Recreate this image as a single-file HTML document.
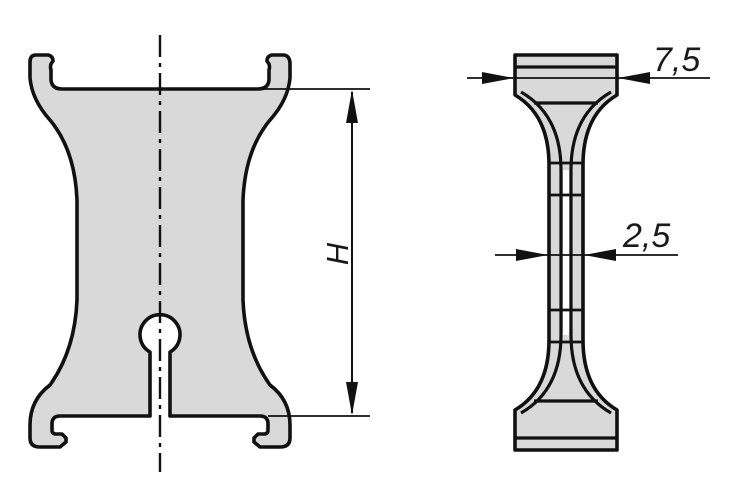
<!DOCTYPE html>
<html><head><meta charset="utf-8"><style>
html,body{margin:0;padding:0;background:#fff;}
svg{display:block;}
text{font-family:"Liberation Sans",sans-serif;font-style:italic;fill:#1a1a1a;}
</style></head><body>
<svg width="750" height="500" viewBox="0 0 750 500" xmlns="http://www.w3.org/2000/svg">
<!-- Left part -->
<path d="M36,55 L48,55 Q53,56 53,61 L51,64 Q50,67 51,70 L51,80 Q52,89 62,89 L258,89 Q268,89 269,80 L269,70 Q270,67 269,64 L267,61 Q267,56 272,55 L284,55 Q290,56 290,64 L290,78 Q288,100 270,120 Q245,150 243,200 L243,300 Q245,350 270,385 Q290,400 290,425 L290,438 Q290,447 280,447 L260,447 L254,442 L254,438 L258,434 L264,434 Q268,434 268,430 L268,424 Q268,416 260,416 L170,416 L170,352 A20 20 0 1 0 150,352 L150,416 L60,416 Q52,416 52,424 L52,430 Q52,434 56,434 L62,434 L66,438 L66,442 L60,447 L40,447 Q30,447 30,438 L30,425 Q30,400 50,385 Q75,350 77,300 L77,200 Q75,150 50,120 Q32,100 30,78 L30,62 Q30,55 36,55 Z" fill="#d9d9d9" stroke="#111" stroke-width="3.6" stroke-linejoin="round"/>
<line x1="160" y1="35" x2="160" y2="472" stroke="#111" stroke-width="2.4" stroke-dasharray="22,6,4,6"/>
<!-- H dimension -->
<line x1="262" y1="89" x2="370" y2="89" stroke="#111" stroke-width="1.8"/>
<line x1="268" y1="416" x2="370" y2="416" stroke="#111" stroke-width="1.8"/>
<line x1="352" y1="92" x2="352" y2="413" stroke="#111" stroke-width="2"/>
<polygon points="352,90 346,123 358,123" fill="#111"/>
<polygon points="352,415 346,382 358,382" fill="#111"/>
<text x="0" y="0" font-size="31" transform="translate(348,254) rotate(-90)" text-anchor="middle">H</text>
<!-- Right part -->
<path d="M515,55 L617,55 L617,95 Q583,115 583,165 L583,340 Q583,390 617,410 L617,450 L515,450 L515,410 Q549,390 549,340 L549,165 Q549,115 515,95 Z" fill="#d9d9d9" stroke="#111" stroke-width="3.6" stroke-linejoin="round"/>
<path d="M521,92 Q561,115 561,170 L561,335 Q561,390 521,413" fill="none" stroke="#111" stroke-width="3.2"/>
<path d="M611,92 Q571,115 571,170 L571,335 Q571,390 611,413" fill="none" stroke="#111" stroke-width="3.2"/>
<rect x="563" y="170" width="6" height="165" fill="#fff"/>
<line x1="516" y1="67" x2="616" y2="67" stroke="#111" stroke-width="3.2"/>
<line x1="516" y1="438" x2="616" y2="438" stroke="#111" stroke-width="3.2"/>
<line x1="534" y1="103" x2="598" y2="103" stroke="#111" stroke-width="3.2"/>
<line x1="534" y1="401" x2="598" y2="401" stroke="#111" stroke-width="3.2"/>
<line x1="549" y1="163" x2="583" y2="163" stroke="#111" stroke-width="2.8"/>
<line x1="549" y1="195" x2="583" y2="195" stroke="#111" stroke-width="2.8"/>
<line x1="549" y1="310" x2="583" y2="310" stroke="#111" stroke-width="2.8"/>
<line x1="549" y1="342" x2="583" y2="342" stroke="#111" stroke-width="2.8"/>
<!-- 7,5 dimension -->
<line x1="467" y1="78" x2="710" y2="78" stroke="#111" stroke-width="1.8"/>
<polygon points="514,78 482,72 482,84" fill="#111"/>
<polygon points="618,78 650,72 650,84" fill="#111"/>
<text x="653" y="71" font-size="34">7,5</text>
<!-- 2,5 dimension -->
<line x1="495" y1="255" x2="678" y2="255" stroke="#111" stroke-width="1.8"/>
<polygon points="548,255 516,249 516,261" fill="#111"/>
<polygon points="584,255 616,249 616,261" fill="#111"/>
<text x="623" y="247" font-size="34">2,5</text>
</svg>
</body></html>
